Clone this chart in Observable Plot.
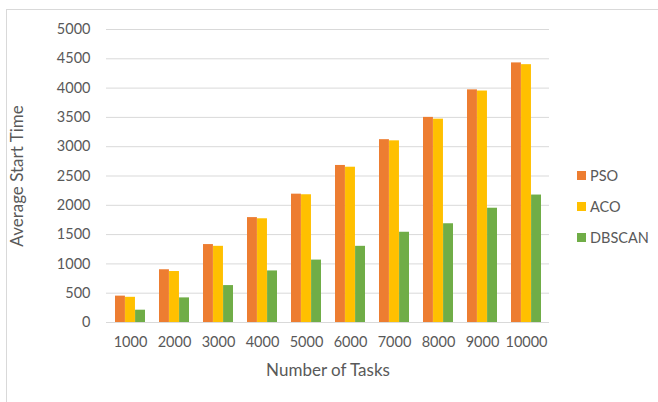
<!DOCTYPE html>
<html>
<head>
<meta charset="utf-8">
<script src="https://cdn.jsdelivr.net/npm/d3@7"></script>
<script src="https://cdn.jsdelivr.net/npm/@observablehq/plot@0.6"></script>
<style>
  html, body { margin: 0; padding: 0; background: #fff; overflow: hidden; }
  #wrap { position: relative; width: 658px; height: 402px; overflow: hidden; font-family: Lato, "Open Sans", sans-serif; }
  #frame { position: absolute; left: 6px; top: 9px; width: 720px; height: 480px; border: 1px solid #d9d9d9; box-sizing: border-box; }
  #chart { position: absolute; left: 0; top: 0; }
  #legend { position: absolute; left: 577px; top: 160px; color: #595959; font-size: 14.5px; }
  #legend .item { display: flex; align-items: center; height: 31px; }
  #legend .sw { width: 9px; height: 9px; margin-right: 4px; }
</style>
</head>
<body>
<div id="wrap">
  <div id="frame"></div>
  <div id="chart"></div>
  <div id="legend"></div>
</div>
<script>
// Task counts on the x axis
const tasks = ["1000", "2000", "3000", "4000", "5000", "6000", "7000", "8000", "9000", "10000"];
// Algorithms compared
const series = ["PSO", "ACO", "DBSCAN"];
const colors = ["#ED7D31", "#FFC000", "#70AD47"];
// Average start time per algorithm
const pso = [450, 900, 1330, 1790, 2190, 2680, 3120, 3500, 3970, 4430];
const aco = [430, 870, 1300, 1770, 2180, 2650, 3100, 3470, 3950, 4400];
const dbscan = [210, 420, 630, 880, 1065, 1300, 1540, 1685, 1950, 2175];
// Y axis ticks
const yTicks = [0, 500, 1000, 1500, 2000, 2500, 3000, 3500, 4000, 4500, 5000];

const values = [pso, aco, dbscan];
const rows = series.flatMap((s, i) => tasks.map((t, j) => ({task: t, algo: s, value: values[i][j]})));

const W = 658, H = 402;
const mL = 106, mR = 109, mT = 29, mB = 80;
const padIn = 0.32, padOut = 0.16;
// width of one task group; each algorithm takes a third of it
const step = (W - mL - mR) / (tasks.length - padIn + 2 * padOut);
const bw = step * (1 - padIn);
const third = bw / 3;

const barMarks = series.map((s, i) =>
  Plot.barY(rows.filter(d => d.algo === s), {
    x: "task",
    y: "value",
    fill: colors[i],
    insetLeft: third * i,
    insetRight: third * (2 - i)
  })
);

const chart = Plot.plot({
  width: W,
  height: H,
  marginLeft: mL,
  marginRight: mR,
  marginTop: mT,
  marginBottom: mB,
  style: {fontFamily: "Lato, 'Open Sans', sans-serif", fontSize: "14px", color: "#595959", background: "transparent"},
  x: {type: "band", domain: tasks, paddingInner: padIn, paddingOuter: padOut, align: 0.5},
  y: {domain: [0, 5000]},
  marks: [
    Plot.gridY(yTicks, {stroke: "#d9d9d9", strokeOpacity: 1, strokeWidth: 1}),
    ...barMarks,
    Plot.axisY(yTicks, {tickSize: 0, tickPadding: 16, tickFormat: d3.format("d"), label: null, fill: "#595959", fontSize: 14.5}),
    Plot.axisX({tickSize: 0, tickPadding: 14, label: null, fill: "#595959", fontSize: 14.5}),
    Plot.text(["Number of Tasks"], {frameAnchor: "bottom", dy: 48, fill: "#595959", fontSize: 17, lineAnchor: "middle", textAnchor: "middle"}),
    Plot.text(["Average Start Time"], {frameAnchor: "left", rotate: -90, dx: -89, fill: "#595959", fontSize: 17, lineAnchor: "middle", textAnchor: "middle"})
  ]
});
document.getElementById("chart").appendChild(chart);

const legend = document.getElementById("legend");
series.forEach((s, i) => {
  const item = document.createElement("div");
  item.className = "item";
  const sw = document.createElement("span");
  sw.className = "sw";
  sw.style.background = colors[i];
  const label = document.createElement("span");
  label.textContent = s;
  item.appendChild(sw);
  item.appendChild(label);
  legend.appendChild(item);
});
</script>
</body>
</html>
